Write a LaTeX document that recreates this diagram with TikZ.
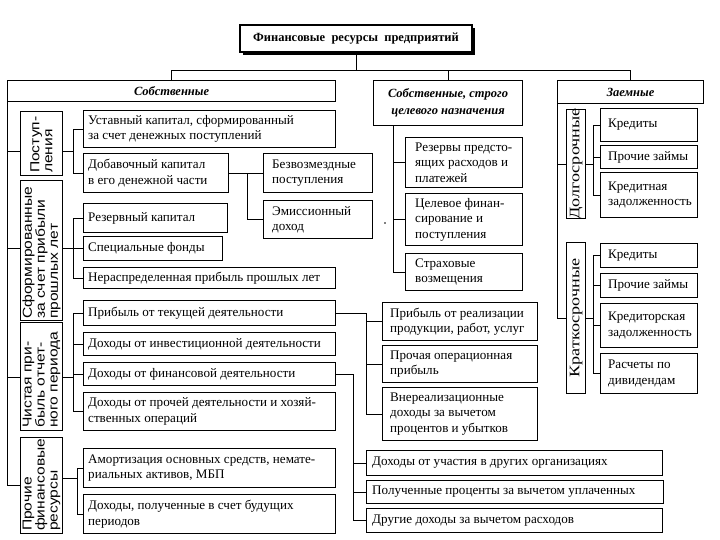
\documentclass[tikz,border=0pt]{standalone}
\usepackage{fontspec}
\setmainfont{Liberation Serif}
\newfontfamily\vsans[FakeStretch=1.2]{Liberation Sans}
\newfontfamily\vserif[FakeStretch=1.25]{Liberation Serif}
\usetikzlibrary{calc,shadows}
\tikzset{
  bx/.style={draw, line width=1.1pt, inner sep=0pt, anchor=north west},
  txt/.style={anchor=west, align=left, inner sep=0pt, font=\fontsize{13.1}{15.5}\selectfont},
  hd/.style={font=\fontsize{12.5}{17}\selectfont\bfseries\itshape, align=center},
  vt/.style={rotate=90, align=left, inner sep=0pt, font=\vsans\fontsize{13}{13}\selectfont},
  vs/.style={rotate=90, align=center, inner sep=0pt, font=\vserif\fontsize{14.5}{14.5}\selectfont},
  ln/.style={line width=0.95pt},
}
% box with left aligned text: [pad]{name}{x1}{y1}{x2}{y2}{text}
\newcommand\bx[7][5]{%
  \pgfmathsetmacro\bw{#5-#3}\pgfmathsetmacro\bh{#6-#4}%
  \node[bx, minimum width=\bw pt, minimum height=\bh pt] (#2) at (#3,#4) {};%
  \node[txt] (#2t) at ([xshift=#1pt]#2.west) {#7};}
% header box with centred text
\newcommand\hdb[6]{%
  \pgfmathsetmacro\bw{#4-#2}\pgfmathsetmacro\bh{#5-#3}%
  \node[bx, hd, minimum width=\bw pt, minimum height=\bh pt] (#1) at (#2,#3) {#6};}
% empty box
\newcommand\eb[5]{%
  \pgfmathsetmacro\bw{#4-#2}\pgfmathsetmacro\bh{#5-#3}%
  \node[bx, minimum width=\bw pt, minimum height=\bh pt] (#1) at (#2,#3) {};}
\begin{document}
\begin{tikzpicture}[x=1pt,y=-1pt]
\useasboundingbox (0,0) rectangle (720,540);
% title
\node[draw, line width=1.1pt, fill=white, minimum width=232pt, minimum height=27pt,
  drop shadow={shadow xshift=3pt, shadow yshift=-3pt, opacity=1, fill=black},
  font=\fontsize{12.5}{15}\selectfont\bfseries] (tit) at (356,38.5) {Финансовые\ \ ресурсы\ \ предприятий};
% headers
\hdb{sob}{7}{80}{335}{101}{Собственные}
\hdb{cel}{373}{80}{522}{125}{Собственные, строго\\целевого назначения}
\hdb{zaem}{557}{80}{703}{103}{Заемные}
% left categories
\eb{post}{20}{111}{62}{175}
\eb{sform}{20}{180}{62}{320}
\eb{chist}{20}{322}{62}{430}
\eb{prfin}{20}{437}{62}{533}
\node[vt, anchor=west] (postt) at ([yshift=3pt]post.south) {Поступ-\\ления};
\node[vt, anchor=west] (sformt) at ([yshift=2pt]sform.south) {Сформированные\\за счет прибыли\\прошлых лет};
\node[vt, anchor=west] (chistt) at ([yshift=3pt]chist.south) {Чистая при-\\быль отчет-\\ного периода};
\node[vt, anchor=west] (prfint) at ([yshift=3pt]prfin.south) {Прочие\\финансовые\\ресурсы};
% left children
\bx{ust}{83}{110}{335}{147}{Уставный капитал, сформированный\\за счет денежных поступлений}
\bx{dob}{83}{153}{228}{192}{Добавочный капитал\\в его денежной части}
\bx[9]{bezv}{263}{153}{372}{192}{Безвозмездные\\поступления}
\bx[9]{emis}{263}{200}{372}{238}{Эмиссионный\\доход}
\bx{rezk}{83}{203}{227}{232}{Резервный капитал}
\bx{spec}{83}{236}{222}{260}{Специальные фонды}
\bx{neras}{83}{267}{335}{288}{Нераспределенная прибыль прошлых лет}
\bx{ptek}{83}{300}{335}{325}{Прибыль от текущей деятельности}
\bx{dinv}{83}{332}{335}{355}{Доходы от инвестиционной деятельности}
\bx{dfin}{83}{362}{335}{385}{Доходы от финансовой деятельности}
\bx{dpr}{83}{392}{335}{430}{Доходы от прочей деятельности и хозяй-\\ственных операций}
\bx{amort}{83}{448}{335}{487}{Амортизация основных средств, немате-\\риальных активов, МБП}
\bx{dbud}{83}{494}{335}{533}{Доходы, полученные в счет будущих\\периодов}
% middle
\bx[10]{rezp}{405}{137}{522}{187}{Резервы предсто-\\ящих расходов и\\платежей}
\bx[10]{celf}{405}{193}{522}{245}{Целевое финан-\\сирование и\\поступления}
\bx[10]{strah}{405}{253}{522}{290}{Страховые\\возмещения}
\bx[8]{prreal}{382}{302}{537}{340}{Прибыль от реализации\\продукции, работ, услуг}
\bx[8]{proper}{382}{345}{537}{382}{Прочая операционная\\прибыль}
\bx[8]{vner}{382}{387}{537}{440}{Внереализационные\\доходы за вычетом\\процентов и убытков}
\bx[6]{duch}{366}{450}{662}{475}{Доходы от участия в других организациях}
\bx[6]{polp}{366}{480}{663}{503}{Полученные проценты за вычетом уплаченных}
\bx[6]{drug}{366}{508}{662}{532}{Другие доходы за вычетом расходов}
% right
\eb{dolg}{566}{109}{585}{218}
\eb{krat}{566}{242}{585}{393}
\node[vs] (dolgt) at (dolg.center) {Долгосрочные};
\node[vs] (kratt) at (krat.center) {Краткосрочные};
\bx[8]{kr1}{600}{108}{697}{141}{Кредиты}
\bx[8]{pz1}{600}{145}{697}{168}{Прочие займы}
\bx[8]{kz}{600}{172}{697}{217}{Кредитная\\задолженность}
\bx[8]{kr2}{600}{243}{697}{267}{Кредиты}
\bx[8]{pz2}{600}{273}{697}{297}{Прочие займы}
\bx[8]{kredz}{600}{303}{697}{347}{Кредиторская\\задолженность}
\bx[8]{rasch}{600}{353}{697}{393}{Расчеты по\\дивидендам}
% connectors: top
\coordinate (hl) at (0,70);
\draw[ln] (tit.south) -- (tit.south |- hl);
\draw[ln] (sob.north) -- (sob.north |- hl) -- (zaem.north |- hl) -- (zaem.north);
\draw[ln] (cel.north) -- (cel.north |- hl);
% left trunk
\draw[ln] (sob.south west) |- (prfin.west);
\coordinate (pB) at (73,151);
\draw[ln] (sob.south west |- pB) -- (post.west |- pB);
\draw[ln] (post.east |- pB) -- (pB);
\draw[ln] (ust.west) -- (ust.west -| pB) -- (dob.west -| pB) -- (dob.west);
\coordinate (sB) at (73,248);
\draw[ln] (sob.south west |- sB) -- (sform.west |- sB);
\draw[ln] (sform.east |- sB) -- (sB);
\draw[ln] (rezk.west) -- (rezk.west -| sB) -- (neras.west -| sB) -- (neras.west);
\draw[ln] (spec.west -| sB) -- (spec.west);
\coordinate (cB) at (73,377);
\draw[ln] (sob.south west |- cB) -- (chist.west |- cB);
\draw[ln] (chist.east |- cB) -- (cB);
\draw[ln] (ptek.west) -- (ptek.west -| cB) -- (dpr.west -| cB) -- (dpr.west);
\draw[ln] (dinv.west -| cB) -- (dinv.west);
\draw[ln] (dfin.west -| cB) -- (dfin.west);
\coordinate (fB) at (77,478);
\draw[ln] (prfin.east |- fB) -- (fB);
\draw[ln] (amort.west) -- (amort.west -| fB) -- (dbud.west -| fB) -- (dbud.west);
% dobavochny
\coordinate (dB) at (247,0);
\draw[ln] (dob.east) -- (bezv.west);
\draw[ln] (dob.east -| dB) -- (emis.west -| dB) -- (emis.west);
% middle
\coordinate (mB) at (393,0);
\draw[ln] (cel.south -| mB) -- (strah.west -| mB) -- (strah.west);
\draw[ln] (rezp.west -| mB) -- (rezp.west);
\draw[ln] (celf.west -| mB) -- (celf.west);
\fill (385,223) circle (0.9pt);
% profit branches
\coordinate (pB2) at (366,0);
\draw[ln] (ptek.east) -- (ptek.east -| pB2) -- (vner.west -| pB2) -- (vner.west);
\draw[ln] (prreal.west -| pB2) -- (prreal.west);
\draw[ln] (proper.west -| pB2) -- (proper.west);
\coordinate (fB2) at (353,0);
\draw[ln] (dfin.east) -- (dfin.east -| fB2) -- (drug.west -| fB2) -- (drug.west);
\draw[ln] (duch.west -| fB2) -- (duch.west);
\draw[ln] (polp.west -| fB2) -- (polp.west);
% zaemnye
\draw[ln] (zaem.south west) |- (krat.west);
\draw[ln] (zaem.south west |- dolg.west) -- (dolg.west);
\coordinate (zB) at (593,0);
\draw[ln] (dolg.east) -- (dolg.east -| zB);
\draw[ln] (kr1.west) -- (kr1.west -| zB) -- (kz.west -| zB) -- (kz.west);
\draw[ln] (pz1.west -| zB) -- (pz1.west);
\draw[ln] (krat.east) -- (krat.east -| zB);
\draw[ln] (kr2.west) -- (kr2.west -| zB) -- (rasch.west -| zB) -- (rasch.west);
\draw[ln] (pz2.west -| zB) -- (pz2.west);
\draw[ln] (kredz.west -| zB) -- (kredz.west);
\end{tikzpicture}
\end{document}
